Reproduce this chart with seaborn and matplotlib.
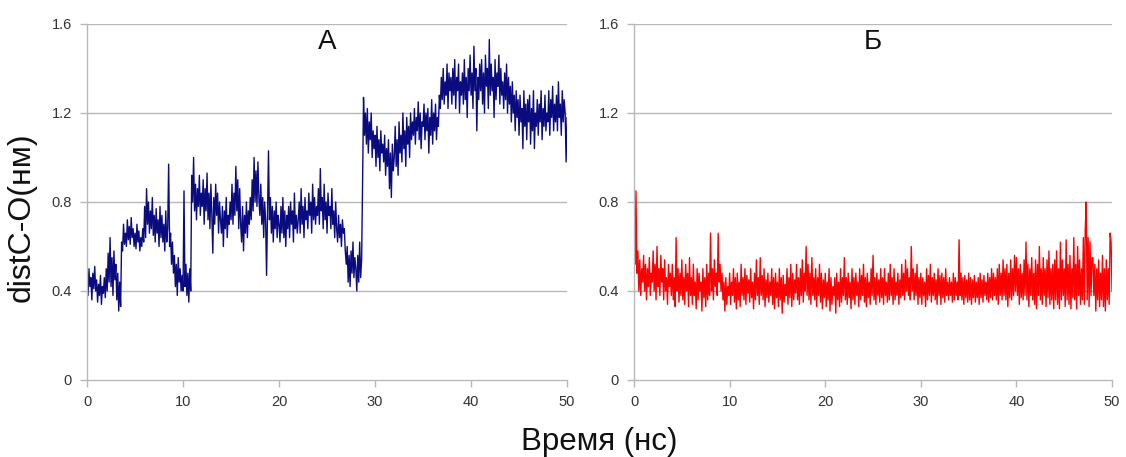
import numpy as np
import pandas as pd
import seaborn as sns
import matplotlib
matplotlib.use("Agg")
import matplotlib.pyplot as plt
from matplotlib.ticker import FuncFormatter

dist_a = [
    0.44, 0.38, 0.50, 0.42, 0.46, 0.36, 0.48, 0.41, 0.51, 0.40,
    0.45, 0.35, 0.43, 0.38, 0.47, 0.34, 0.42, 0.39, 0.46, 0.37,
    0.50, 0.40, 0.57, 0.44, 0.64, 0.42, 0.55, 0.38, 0.58, 0.45,
    0.52, 0.36, 0.48, 0.31, 0.44, 0.33, 0.62, 0.58, 0.70, 0.61,
    0.66, 0.60, 0.72, 0.63, 0.69, 0.61, 0.73, 0.64, 0.68, 0.60,
    0.66, 0.59, 0.70, 0.62, 0.67, 0.58, 0.64, 0.60, 0.68, 0.62,
    0.78, 0.64, 0.86, 0.70, 0.80, 0.66, 0.76, 0.68, 0.82, 0.65,
    0.74, 0.62, 0.77, 0.66, 0.72, 0.60, 0.78, 0.64, 0.74, 0.62,
    0.70, 0.58, 0.76, 0.62, 0.68, 0.97, 0.60, 0.66, 0.52, 0.62,
    0.48, 0.56, 0.42, 0.52, 0.38, 0.55, 0.44, 0.50, 0.40, 0.47,
    0.40, 0.85, 0.42, 0.52, 0.38, 0.48, 0.35, 0.50, 0.40, 0.92,
    0.80, 1.00, 0.76, 0.88, 0.72, 0.86, 0.78, 0.92, 0.74, 0.84,
    0.78, 0.90, 0.70, 0.86, 0.76, 0.93, 0.72, 0.84, 0.68, 0.88,
    0.74, 0.57, 0.82, 0.70, 0.88, 0.74, 0.84, 0.66, 0.80, 0.72,
    0.66, 0.78, 0.60, 0.76, 0.68, 0.82, 0.64, 0.74, 0.70, 0.80,
    0.72, 0.88, 0.70, 0.84, 0.74, 0.96, 0.76, 0.90, 0.68, 0.86,
    0.70, 0.62, 0.78, 0.58, 0.74, 0.66, 0.80, 0.64, 0.76, 0.70,
    0.82, 0.72, 0.90, 0.76, 1.00, 0.80, 0.94, 0.78, 0.98, 0.82,
    0.74, 0.88, 0.70, 0.82, 0.64, 0.80, 0.72, 0.47, 0.76, 1.03,
    0.72, 0.82, 0.66, 0.78, 0.62, 0.76, 0.68, 0.80, 0.64, 0.74,
    0.70, 0.62, 0.78, 0.66, 0.82, 0.64, 0.76, 0.60, 0.74, 0.68,
    0.78, 0.64, 0.80, 0.70, 0.76, 0.62, 0.84, 0.68, 0.74, 0.66,
    0.72, 0.80, 0.66, 0.86, 0.70, 0.78, 0.64, 0.82, 0.72, 0.76,
    0.68, 0.84, 0.74, 0.80, 0.66, 0.88, 0.72, 0.82, 0.70, 0.78,
    0.74, 0.86, 0.70, 0.95, 0.76, 0.82, 0.68, 0.88, 0.72, 0.80,
    0.66, 0.84, 0.74, 0.78, 0.68, 0.86, 0.70, 0.76, 0.64, 0.80,
    0.68, 0.62, 0.74, 0.64, 0.70, 0.60, 0.72, 0.66, 0.68, 0.58,
    0.52, 0.60, 0.44, 0.56, 0.42, 0.58, 0.48, 0.62, 0.46, 0.55,
    0.50, 0.40, 0.56, 0.44, 0.62, 0.46, 0.54, 0.88, 1.27, 1.10,
    1.20, 1.06, 1.22, 1.02, 1.16, 1.08, 1.20, 1.00, 1.12, 1.04,
    1.10, 0.96, 1.14, 1.00, 1.08, 0.94, 1.12, 1.02, 1.06, 0.98,
    1.10, 0.92, 1.04, 0.96, 1.08, 0.86, 1.02, 0.82, 1.06, 0.94,
    1.00, 1.14, 0.96, 1.08, 0.92, 1.16, 1.02, 1.10, 0.98, 1.20,
    1.04, 1.12, 0.96, 1.18, 1.06, 1.14, 1.00, 1.20, 1.08, 1.16,
    1.10, 1.22, 1.06, 1.18, 1.12, 1.25, 1.08, 1.20, 1.04, 1.16,
    1.14, 1.24, 1.08, 1.20, 1.12, 1.22, 1.02, 1.18, 1.10, 1.26,
    1.06, 1.20, 1.12, 1.24, 1.08, 1.18, 1.14, 1.28, 1.22, 1.36,
    1.26, 1.40, 1.24, 1.34, 1.28, 1.42, 1.22, 1.38, 1.30, 1.36,
    1.24, 1.40, 1.28, 1.44, 1.22, 1.36, 1.30, 1.42, 1.20, 1.34,
    1.28, 1.38, 1.24, 1.44, 1.26, 1.36, 1.18, 1.40, 1.30, 1.46,
    1.28, 1.38, 1.22, 1.50, 1.30, 1.40, 1.12, 1.36, 1.26, 1.42,
    1.30, 1.44, 1.24, 1.38, 1.20, 1.46, 1.32, 1.40, 1.22, 1.53,
    1.28, 1.42, 1.30, 1.36, 1.18, 1.44, 1.26, 1.38, 1.32, 1.46,
    1.24, 1.40, 1.28, 1.34, 1.22, 1.38, 1.26, 1.42, 1.20, 1.36,
    1.24, 1.32, 1.16, 1.34, 1.20, 1.28, 1.12, 1.30, 1.18, 1.26,
    1.10, 1.28, 1.16, 1.22, 1.04, 1.30, 1.14, 1.24, 1.08, 1.26,
    1.16, 1.28, 1.06, 1.22, 1.12, 1.30, 1.04, 1.20, 1.14, 1.26,
    1.10, 1.24, 1.16, 1.30, 1.08, 1.22, 1.14, 1.28, 1.12, 1.20,
    1.16, 1.30, 1.10, 1.26, 1.18, 1.32, 1.12, 1.24, 1.16, 1.28,
    1.12, 1.34, 1.18, 1.24, 1.10, 1.30, 1.16, 1.26, 1.20, 0.98,
    1.18,
]

dist_b = [
    0.62, 0.52, 0.85, 0.48, 0.58, 0.40, 0.54, 0.38, 0.50, 0.44,
    0.56, 0.40, 0.52, 0.36, 0.50, 0.42, 0.55, 0.38, 0.48, 0.44,
    0.58, 0.40, 0.52, 0.36, 0.60, 0.42, 0.50, 0.38, 0.56, 0.44,
    0.50, 0.36, 0.54, 0.40, 0.46, 0.34, 0.52, 0.42, 0.48, 0.38,
    0.52, 0.36, 0.46, 0.33, 0.64, 0.40, 0.50, 0.35, 0.48, 0.38,
    0.54, 0.36, 0.46, 0.34, 0.52, 0.40, 0.48, 0.33, 0.55, 0.38,
    0.46, 0.34, 0.52, 0.38, 0.44, 0.32, 0.50, 0.36, 0.48, 0.40,
    0.44, 0.31, 0.50, 0.37, 0.46, 0.33, 0.52, 0.36, 0.48, 0.38,
    0.66, 0.40, 0.50, 0.36, 0.54, 0.42, 0.48, 0.38, 0.66, 0.44,
    0.52, 0.40, 0.48, 0.36, 0.44, 0.31, 0.46, 0.34, 0.42, 0.38,
    0.48, 0.34, 0.44, 0.38, 0.50, 0.35, 0.46, 0.32, 0.48, 0.36,
    0.44, 0.33, 0.52, 0.38, 0.46, 0.36, 0.50, 0.34, 0.47, 0.39,
    0.45, 0.35, 0.50, 0.37, 0.44, 0.32, 0.48, 0.36, 0.54, 0.38,
    0.46, 0.34, 0.55, 0.38, 0.47, 0.36, 0.50, 0.33, 0.45, 0.37,
    0.48, 0.35, 0.44, 0.38, 0.50, 0.34, 0.46, 0.32, 0.48, 0.37,
    0.44, 0.33, 0.50, 0.36, 0.46, 0.30, 0.47, 0.35, 0.43, 0.38,
    0.50, 0.34, 0.46, 0.37, 0.52, 0.33, 0.48, 0.36, 0.45, 0.39,
    0.52, 0.36, 0.46, 0.34, 0.50, 0.38, 0.54, 0.35, 0.48, 0.40,
    0.60, 0.38, 0.52, 0.36, 0.48, 0.34, 0.55, 0.38, 0.46, 0.36,
    0.50, 0.33, 0.46, 0.38, 0.52, 0.35, 0.48, 0.32, 0.45, 0.37,
    0.48, 0.33, 0.44, 0.36, 0.50, 0.31, 0.46, 0.34, 0.42, 0.38,
    0.46, 0.30, 0.48, 0.36, 0.44, 0.33, 0.50, 0.35, 0.46, 0.38,
    0.55, 0.36, 0.46, 0.34, 0.48, 0.37, 0.44, 0.32, 0.50, 0.36,
    0.46, 0.34, 0.48, 0.38, 0.44, 0.33, 0.50, 0.36, 0.47, 0.38,
    0.52, 0.35, 0.46, 0.33, 0.48, 0.37, 0.44, 0.34, 0.50, 0.38,
    0.56, 0.36, 0.46, 0.34, 0.48, 0.38, 0.45, 0.35, 0.50, 0.37,
    0.46, 0.34, 0.50, 0.38, 0.44, 0.35, 0.48, 0.36, 0.52, 0.38,
    0.46, 0.34, 0.50, 0.36, 0.44, 0.38, 0.48, 0.34, 0.45, 0.37,
    0.52, 0.38, 0.48, 0.36, 0.54, 0.40, 0.50, 0.38, 0.46, 0.36,
    0.60, 0.40, 0.50, 0.36, 0.48, 0.38, 0.52, 0.34, 0.46, 0.37,
    0.48, 0.34, 0.46, 0.38, 0.44, 0.33, 0.50, 0.36, 0.47, 0.38,
    0.52, 0.35, 0.46, 0.38, 0.48, 0.36, 0.45, 0.34, 0.50, 0.38,
    0.47, 0.34, 0.48, 0.37, 0.46, 0.35, 0.50, 0.38, 0.44, 0.36,
    0.46, 0.38, 0.44, 0.35, 0.48, 0.36, 0.46, 0.38, 0.44, 0.36,
    0.63, 0.38, 0.48, 0.36, 0.46, 0.34, 0.47, 0.37, 0.45, 0.35,
    0.48, 0.36, 0.46, 0.34, 0.45, 0.37, 0.47, 0.35, 0.44, 0.37,
    0.46, 0.34, 0.48, 0.37, 0.45, 0.35, 0.47, 0.38, 0.44, 0.36,
    0.48, 0.35, 0.46, 0.37, 0.50, 0.36, 0.48, 0.38, 0.46, 0.36,
    0.50, 0.34, 0.52, 0.38, 0.48, 0.36, 0.54, 0.38, 0.50, 0.36,
    0.52, 0.33, 0.48, 0.37, 0.54, 0.36, 0.50, 0.38, 0.56, 0.40,
    0.55, 0.38, 0.50, 0.34, 0.52, 0.37, 0.48, 0.36, 0.54, 0.38,
    0.62, 0.36, 0.52, 0.33, 0.50, 0.38, 0.55, 0.36, 0.48, 0.34,
    0.54, 0.32, 0.52, 0.38, 0.60, 0.36, 0.50, 0.34, 0.55, 0.38,
    0.50, 0.33, 0.54, 0.37, 0.58, 0.34, 0.50, 0.36, 0.52, 0.32,
    0.54, 0.36, 0.58, 0.34, 0.50, 0.32, 0.62, 0.36, 0.54, 0.38,
    0.50, 0.33, 0.63, 0.36, 0.52, 0.34, 0.56, 0.32, 0.50, 0.37,
    0.64, 0.36, 0.52, 0.32, 0.60, 0.38, 0.54, 0.34, 0.50, 0.36,
    0.64, 0.34, 0.68, 0.80, 0.36, 0.64, 0.33, 0.62, 0.38, 0.55,
    0.55, 0.38, 0.52, 0.31, 0.50, 0.36, 0.54, 0.33, 0.48, 0.36,
    0.56, 0.33, 0.50, 0.31, 0.54, 0.36, 0.50, 0.34, 0.66, 0.62,
    0.40,
]

step_ns = 0.1
x_ticks = [0, 10, 20, 30, 40, 50]
y_ticks = [0, 0.4, 0.8, 1.2, 1.6]
panel_labels = ["А", "Б"]
colors = ["#0b0b80", "#ff0000"]

sns.set_style("white")
plt.rcParams["font.family"] = ["Liberation Sans", "DejaVu Sans"]

fig = plt.figure(figsize=(11.26, 4.57), dpi=100)
ax_a = fig.add_axes([0.0773, 0.1685, 0.4263, 0.779])
ax_b = fig.add_axes([0.5631, 0.1685, 0.4245, 0.779])

grid_c = "#b8b8b8"
for ax, vals, lab, col in zip([ax_a, ax_b], [dist_a, dist_b], panel_labels, colors):
    df = pd.DataFrame({"t": np.arange(len(vals)) * step_ns, "d": vals})
    sns.lineplot(data=df, x="t", y="d", ax=ax, color=col, lw=1.0, estimator=None)
    ax.set_xlim(0, 50)
    ax.set_ylim(0, 1.6)
    ax.set_xticks(x_ticks)
    ax.set_yticks(y_ticks)
    ax.yaxis.set_major_formatter(FuncFormatter(lambda v, p: "0" if v == 0 else f"{v:.1f}"))
    for yv in y_ticks[1:]:
        ax.axhline(yv, color=grid_c, lw=1, zorder=0)
    for s in ["top", "right"]:
        ax.spines[s].set_visible(False)
    for s in ["left", "bottom"]:
        ax.spines[s].set_color(grid_c)
        ax.spines[s].set_linewidth(1)
    ax.tick_params(axis="both", direction="out", length=5, width=1, color=grid_c,
                   labelsize=10.5, labelcolor="#333333", pad=6, left=True, bottom=True)
    ax.set_xlabel("")
    ax.set_ylabel("")
    ax.text(25.0, 1.52, lab, fontsize=20, ha="center", va="center", color="#111111")

fig.text(0.0195, 0.525, "distC-O(нм)", rotation=90, fontsize=23, ha="center", va="center", color="#111111")
fig.text(0.532, 0.0153, "Время (нс)", fontsize=22.5, ha="center", va="baseline", color="#111111")

fig.savefig("out.png", dpi=100)
